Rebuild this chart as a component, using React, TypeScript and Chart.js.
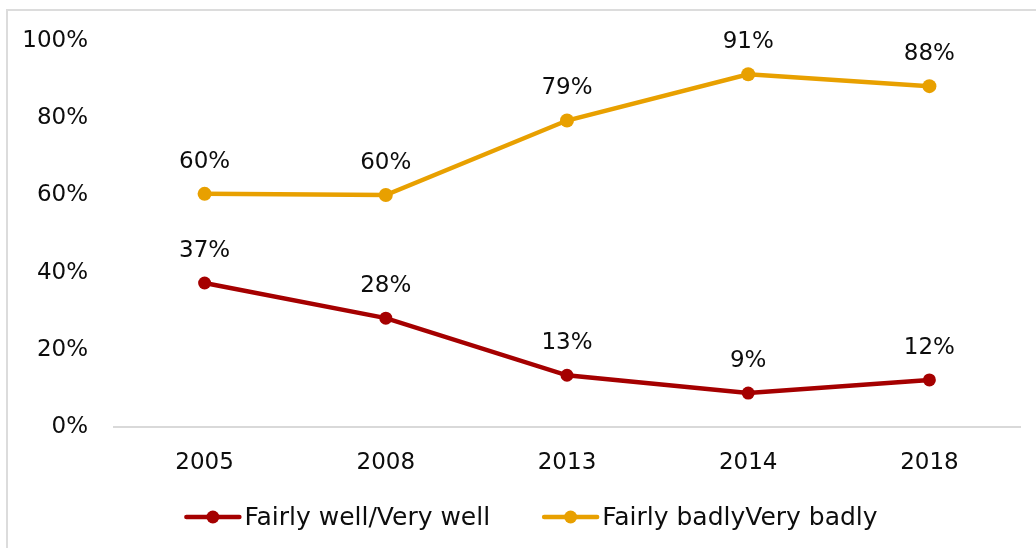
import React, { useEffect, useRef } from "react";
import { Chart, registerables } from "chart.js";

Chart.register(...registerables);

const years = ["2005", "2008", "2013", "2014", "2018"];
const wellValues = [37.3, 28.2, 13.4, 8.8, 12.2];
const badlyValues = [60.4, 60.1, 79.4, 91.4, 88.3];
const seriesNames = ["Fairly well/Very well", "Fairly badlyVery badly"];
const seriesColors = ["#A50000", "#E8A000"];
const yTicks = [0, 20, 40, 60, 80, 100];

const FONT = "'DejaVu Sans', sans-serif";
const TEXT = "#0d0d0d";

const dataLabelPlugin = {
  id: "dataLabels",
  afterDatasetsDraw(chart: any) {
    const ctx = chart.ctx;
    ctx.save();
    ctx.font = `23px ${FONT}`;
    ctx.fillStyle = TEXT;
    ctx.textAlign = "center";
    ctx.textBaseline = "middle";
    chart.data.datasets.forEach((ds: any, i: number) => {
      const meta = chart.getDatasetMeta(i);
      meta.data.forEach((pt: any, j: number) => {
        ctx.fillText(Math.round(ds.data[j]) + "%", pt.x, pt.y - 32);
      });
    });
    ctx.restore();
  },
};

const legendPlugin = {
  id: "customLegend",
  afterDraw(chart: any) {
    const ctx = chart.ctx;
    ctx.save();
    ctx.font = `25px ${FONT}`;
    ctx.textBaseline = "middle";
    ctx.textAlign = "left";
    const y = 517;
    const markerW = 57;
    const gap = 3;
    const itemGap = 52;
    const widths = chart.data.datasets.map(
      (ds: any) => markerW + gap + ctx.measureText(ds.label).width
    );
    const total = widths.reduce((a: number, b: number) => a + b, 0) + itemGap * (widths.length - 1);
    let x = 531 - total / 2;
    chart.data.datasets.forEach((ds: any, i: number) => {
      ctx.strokeStyle = ds.borderColor;
      ctx.lineWidth = 4.5;
      ctx.lineCap = "round";
      ctx.beginPath();
      ctx.moveTo(x + 2, y);
      ctx.lineTo(x + markerW - 2, y);
      ctx.stroke();
      ctx.fillStyle = ds.borderColor;
      ctx.beginPath();
      ctx.arc(x + markerW / 2, y, 6.5, 0, Math.PI * 2);
      ctx.fill();
      ctx.fillStyle = TEXT;
      ctx.fillText(ds.label, x + markerW + gap, y + 1);
      x += widths[i] + itemGap;
    });
    ctx.restore();
  },
};

export default function App() {
  const ref = useRef<HTMLCanvasElement | null>(null);

  useEffect(() => {
    if (!ref.current) return;
    const chart = new Chart(ref.current, {
      type: "line",
      data: {
        labels: years,
        datasets: [
          {
            label: seriesNames[0],
            data: wellValues,
            borderColor: seriesColors[0],
            backgroundColor: seriesColors[0],
            borderWidth: 4.5,
            pointRadius: 6.5,
            pointBorderWidth: 0,
            pointHoverRadius: 6.5,
            tension: 0,
          },
          {
            label: seriesNames[1],
            data: badlyValues,
            borderColor: seriesColors[1],
            backgroundColor: seriesColors[1],
            borderWidth: 4.5,
            pointRadius: 7,
            pointBorderWidth: 0,
            pointHoverRadius: 7,
            tension: 0,
          },
        ],
      },
      options: {
        responsive: false,
        animation: false,
        events: [],
        layout: { padding: { top: 41, right: 16, bottom: 0, left: 0 } },
        plugins: {
          legend: { display: false },
          tooltip: { enabled: false },
          title: { display: false },
        },
        scales: {
          x: {
            offset: true,
            grid: { display: false, drawTicks: false },
            border: { display: true, color: "#d9d9d9", width: 2 },
            ticks: {
              color: TEXT,
              font: { family: FONT, size: 23 },
              padding: 22,
              maxRotation: 0,
            },
            afterFit(scale: any) {
              scale.height = 121;
            },
          },
          y: {
            min: 0,
            max: 100,
            grid: { display: false, drawTicks: false },
            border: { display: false },
            afterBuildTicks(scale: any) {
              scale.ticks = yTicks.map((v) => ({ value: v }));
            },
            ticks: {
              color: TEXT,
              font: { family: FONT, size: 23 },
              padding: 26,
              callback: (v: any) => v + "%",
            },
            afterFit(scale: any) {
              scale.width = 114;
            },
          },
        },
      },
      plugins: [dataLabelPlugin, legendPlugin],
    });
    return () => chart.destroy();
  }, []);

  return (
    <div style={{ position: "fixed", left: 0, top: 0, width: 1036, height: 548, overflow: "hidden", background: "#fff" }}>
      <div
        style={{
          position: "absolute",
          left: 6,
          top: 9,
          width: 1100,
          height: 600,
          borderLeft: "2px solid #dcdcdc",
          borderTop: "2px solid #dcdcdc",
        }}
      />
      <canvas ref={ref} width={1036} height={548} style={{ position: "absolute", left: 0, top: 0, width: 1036, height: 548 }} />
    </div>
  );
}
